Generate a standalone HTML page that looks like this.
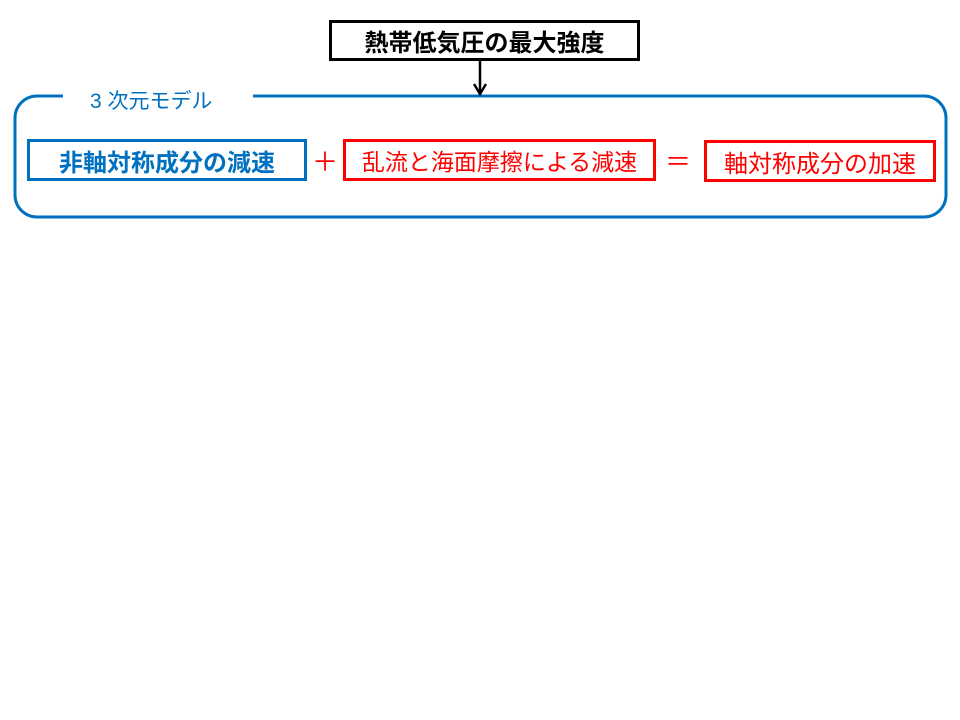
<!DOCTYPE html>
<html><head><meta charset="utf-8"><style>
body{margin:0;width:960px;height:720px;background:#fff;overflow:hidden;position:relative;font-family:"Liberation Sans","Noto Sans CJK JP",sans-serif}
.b{position:absolute;box-sizing:border-box;display:flex;align-items:center;justify-content:center;font-size:24px;white-space:nowrap}
</style></head><body>
<svg width="960" height="720" style="position:absolute;left:0;top:0">
<path d="M63 96 H37 A22 22 0 0 0 15 118 V195 A22 22 0 0 0 37 217 H924 A22 22 0 0 0 946 195 V118 A22 22 0 0 0 924 96 H253" fill="none" stroke="#0070C0" stroke-width="3"/>
<line x1="480" y1="60" x2="480" y2="93" stroke="#000" stroke-width="2.5"/>
<path d="M474 84 L480 94 L486 84" fill="none" stroke="#000" stroke-width="2.5"/>
</svg>
<div class="b" style="left:329px;top:20px;width:311px;height:41px;border:3px solid #000;font-weight:bold;color:#000">熱帯低気圧の最大強度</div>
<div class="b" style="left:90px;top:87px;width:160px;height:26px;font-size:21px;color:#0070C0;justify-content:flex-start">3 次元モデル</div>
<div class="b" style="left:27px;top:139px;width:280px;height:42px;border:3px solid #0070C0;color:#0070C0;font-weight:bold">非軸対称成分の減速</div>
<div class="b" style="left:310px;top:140px;width:30px;height:40px;color:#f00;font-size:26px">＋</div>
<div class="b" style="left:343px;top:139px;width:313px;height:42px;border:3px solid #f00;color:#f00;font-size:23px">乱流と海面摩擦による減速</div>
<div class="b" style="left:663px;top:140px;width:30px;height:40px;color:#f00;font-size:26px">＝</div>
<div class="b" style="left:704px;top:140px;width:232px;height:42px;border:3px solid #f00;color:#f00">軸対称成分の加速</div>
</body></html>
